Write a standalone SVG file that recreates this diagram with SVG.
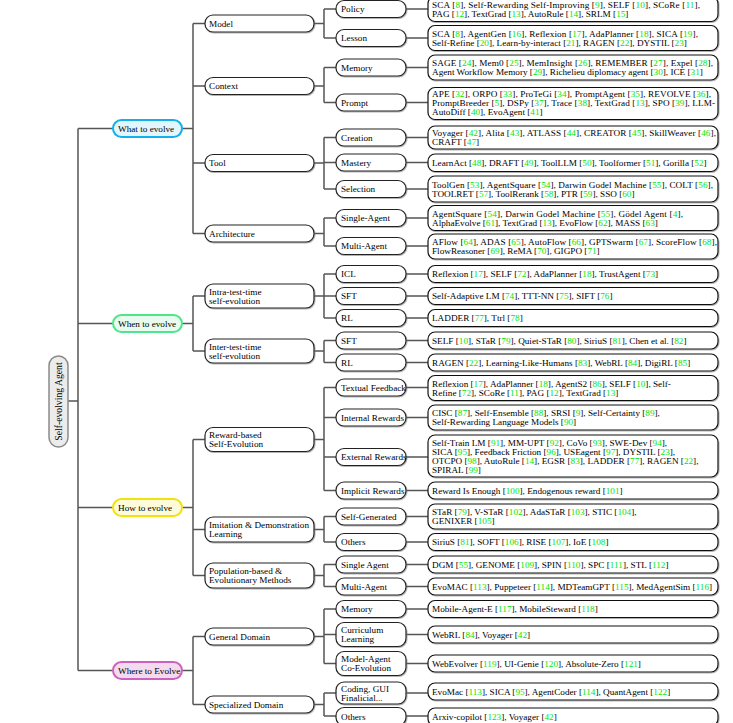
<svg xmlns="http://www.w3.org/2000/svg" width="733" height="723" viewBox="0 0 733 723">
<style>
text{font-family:"Liberation Serif","Times New Roman",serif;font-size:9.2px;fill:#000}
.g{fill:#00e600}
.b{fill:#fff;stroke:#222;stroke-width:1.2;filter:url(#sh)}
.lf{fill:#fff;stroke:#111;stroke-width:1.2;filter:url(#sh)}
.c path{stroke:#555;stroke-width:1.5;fill:none}
</style>
<defs>
<filter id="sh" x="-5%" y="-20%" width="110%" height="140%"><feDropShadow dx="0.7" dy="0.8" stdDeviation="0.5" flood-color="#777" flood-opacity="0.7"/></filter>
</defs>
<rect width="733" height="723" fill="#fff"/>
<g class="c" id="connectors">
<path d="M68 401H78M78 128.5V670.5M78 128.5H113M78 323.5H113M78 507.5H113M78 670.5H113"/>
<path d="M182 128.5H193M193 23.5V233.5M193 23.5H205M193 86H205M193 163H205M193 233.5H205"/>
<path d="M182 323.5H193M193 296V351M193 296H205M193 351H205"/>
<path d="M182 507.5H193M193 439.5V575.5M193 439.5H205M193 529.5H205M193 575.5H205"/>
<path d="M182 670.5H193M193 636.5V704.5M193 636.5H205M193 704.5H205"/>
<path d="M314 23.5H324M324 9V38M324 9H336M324 38H336"/>
<path d="M314 86H324M324 67.5V102.5M324 67.5H336M324 102.5H336"/>
<path d="M314 163H324M324 137.5V189M324 137.5H336M324 162.5H336M324 189H336"/>
<path d="M314 233.5H324M324 218V246M324 218H336M324 246H336"/>
<path d="M314 296H324M324 274V318M324 274H336M324 296H336M324 318H336"/>
<path d="M314 351H324M324 340.5V362.5M324 340.5H336M324 362.5H336"/>
<path d="M314 439.5H324M324 387.5V490.5M324 387.5H336M324 417.5H336M324 457H336M324 490.5H336"/>
<path d="M314 529.5H324M324 516.5V542M324 516.5H336M324 542H336"/>
<path d="M314 575.5H324M324 564.5V586.5M324 564.5H336M324 586.5H336"/>
<path d="M314 636.5H324M324 609V663.5M324 609H336M324 634.5H336M324 663.5H336"/>
<path d="M314 704.5H324M324 693V716M324 693H336M324 716H336"/>
<path d="M406 9H428M406 38H428M406 67.5H428M406 102.5H428M406 137.5H428M406 162.5H428M406 189H428M406 218H428M406 246H428M406 274H428M406 296H428M406 318H428M406 340.5H428M406 362.5H428M406 387.5H428M406 417.5H428M406 457H428M406 490.5H428M406 516.5H428M406 542H428M406 564.5H428M406 586.5H428M406 609H428M406 634.5H428M406 663.5H428M406 693H428M406 716H428"/>
</g>

<g id="root"><rect x="49" y="356" width="19" height="91" rx="9.5" fill="#ececec" stroke="#8a8a8a" stroke-width="1.5"/><text transform="translate(62,401.5) rotate(-90)" text-anchor="middle" style="font-size:9.7px">Self-evolving Agent</text></g>

<g id="what"><rect x="113" y="120" width="69" height="17" rx="8.5" fill="#e3f6fd" stroke="#12b0ec" stroke-width="2"/><text x="118" y="131.7">What to evolve</text></g>
<g id="when"><rect x="113" y="315" width="69" height="17" rx="8.5" fill="#e8fbef" stroke="#4fe58c" stroke-width="2"/><text x="118" y="326.7">When to evolve</text></g>
<g id="how"><rect x="113" y="499" width="69" height="17" rx="8.5" fill="#fdfbd9" stroke="#f2e20c" stroke-width="2"/><text x="118" y="510.7">How to evolve</text></g>
<g id="where"><rect x="113" y="662" width="69" height="17" rx="8.5" fill="#f4daef" stroke="#cc62bd" stroke-width="2"/><text x="118" y="673.7">Where to Evolve</text></g>

<g id="model"><rect class="b" x="205" y="15" width="109" height="17" rx="8"/><text x="209" y="26.7">Model</text></g>
<g id="context"><rect class="b" x="205" y="77.5" width="109" height="17" rx="8"/><text x="209" y="89.2">Context</text></g>
<g id="tool"><rect class="b" x="205" y="154.5" width="109" height="17" rx="8"/><text x="209" y="166.2">Tool</text></g>
<g id="architecture"><rect class="b" x="205" y="225" width="109" height="17" rx="8"/><text x="209" y="236.7">Architecture</text></g>
<g id="intra"><rect class="b" x="205" y="284" width="109" height="24" rx="8"/><text x="209" y="294.7">Intra-test-time</text><text x="209" y="303.7">self-evolution</text></g>
<g id="inter"><rect class="b" x="205" y="339" width="109" height="24" rx="8"/><text x="209" y="349.7">Inter-test-time</text><text x="209" y="358.7">self-evolution</text></g>
<g id="reward"><rect class="b" x="205" y="427.5" width="109" height="24" rx="8"/><text x="209" y="438.2">Reward-based</text><text x="209" y="447.2">Self-Evolution</text></g>
<g id="imitation"><rect class="b" x="205" y="517" width="109" height="25" rx="8"/><text x="209" y="528.2">Imitation &amp; Demonstration</text><text x="209" y="537.2">Learning</text></g>
<g id="population"><rect class="b" x="205" y="563" width="109" height="25" rx="8"/><text x="209" y="574.2">Population-based &amp;</text><text x="209" y="583.2">Evolutionary Methods</text></g>
<g id="general"><rect class="b" x="205" y="628" width="109" height="17" rx="8"/><text x="209" y="639.7">General Domain</text></g>
<g id="specialized"><rect class="b" x="205" y="696" width="109" height="17" rx="8"/><text x="209" y="707.7">Specialized Domain</text></g>

<g id="policy"><rect class="b" x="336" y="0.5" width="70" height="17" rx="8"/><text x="341" y="12.2">Policy</text></g>
<g id="lesson"><rect class="b" x="336" y="29.5" width="70" height="17" rx="8"/><text x="341" y="41.2">Lesson</text></g>
<g id="memory"><rect class="b" x="336" y="59" width="70" height="17" rx="8"/><text x="341" y="70.7">Memory</text></g>
<g id="prompt"><rect class="b" x="336" y="94" width="70" height="17" rx="8"/><text x="341" y="105.7">Prompt</text></g>
<g id="creation"><rect class="b" x="336" y="129" width="70" height="17" rx="8"/><text x="341" y="140.7">Creation</text></g>
<g id="mastery"><rect class="b" x="336" y="154" width="70" height="17" rx="8"/><text x="341" y="165.7">Mastery</text></g>
<g id="selection"><rect class="b" x="336" y="180.5" width="70" height="17" rx="8"/><text x="341" y="192.2">Selection</text></g>
<g id="single-agent"><rect class="b" x="336" y="209.5" width="70" height="17" rx="8"/><text x="341" y="221.2">Single-Agent</text></g>
<g id="multi-agent"><rect class="b" x="336" y="237.5" width="70" height="17" rx="8"/><text x="341" y="249.2">Multi-Agent</text></g>
<g id="icl"><rect class="b" x="336" y="265.5" width="70" height="17" rx="8"/><text x="341" y="277.2">ICL</text></g>
<g id="sft1"><rect class="b" x="336" y="287.5" width="70" height="17" rx="8"/><text x="341" y="299.2">SFT</text></g>
<g id="rl1"><rect class="b" x="336" y="309.5" width="70" height="17" rx="8"/><text x="341" y="321.2">RL</text></g>
<g id="sft2"><rect class="b" x="336" y="332" width="70" height="17" rx="8"/><text x="341" y="343.7">SFT</text></g>
<g id="rl2"><rect class="b" x="336" y="354" width="70" height="17" rx="8"/><text x="341" y="365.7">RL</text></g>
<g id="textual"><rect class="b" x="336" y="379" width="70" height="17" rx="8"/><text x="341" y="390.7">Textual Feedback</text></g>
<g id="internal"><rect class="b" x="336" y="409" width="70" height="17" rx="8"/><text x="341" y="420.7">Internal Rewards</text></g>
<g id="external"><rect class="b" x="336" y="448.5" width="70" height="17" rx="8"/><text x="341" y="460.2">External Rewards</text></g>
<g id="implicit"><rect class="b" x="336" y="482" width="70" height="17" rx="8"/><text x="341" y="493.7">Implicit Rewards</text></g>
<g id="self-generated"><rect class="b" x="336" y="508" width="70" height="17" rx="8"/><text x="341" y="519.7">Self-Generated</text></g>
<g id="others1"><rect class="b" x="336" y="533.5" width="70" height="17" rx="8"/><text x="341" y="545.2">Others</text></g>
<g id="single-agent2"><rect class="b" x="336" y="556" width="70" height="17" rx="8"/><text x="341" y="567.7">Single Agent</text></g>
<g id="multi-agent2"><rect class="b" x="336" y="578" width="70" height="17" rx="8"/><text x="341" y="589.7">Multi-Agent</text></g>
<g id="memory2"><rect class="b" x="336" y="600.5" width="70" height="17" rx="8"/><text x="341" y="612.2">Memory</text></g>
<g id="curriculum"><rect class="b" x="336" y="622.5" width="70" height="24" rx="8"/><text x="341" y="633.2">Curriculum</text><text x="341" y="642.2">Learning</text></g>
<g id="model-agent"><rect class="b" x="336" y="651.5" width="70" height="24" rx="8"/><text x="341" y="662.2">Model-Agent</text><text x="341" y="671.2">Co-Evolution</text></g>
<g id="coding"><rect class="b" x="336" y="682" width="70" height="22" rx="8"/><text x="341" y="691.7">Coding, GUI</text><text x="341" y="700.7">Finalicial...</text></g>
<g id="others2"><rect class="b" x="336" y="707.5" width="70" height="18" rx="8"/><text x="341" y="719.7">Others</text></g>

<g id="leaf-policy"><rect class="lf" x="428" y="-3.5" width="290" height="25" rx="7"/>
<text x="432" y="7.7" textLength="268" lengthAdjust="spacing">SCA [<tspan class="g">8</tspan>], Self-Rewarding Self-Improving [<tspan class="g">9</tspan>], SELF [<tspan class="g">10</tspan>], SCoRe [<tspan class="g">11</tspan>],</text>
<text x="432" y="16.7">PAG [<tspan class="g">12</tspan>], TextGrad [<tspan class="g">13</tspan>], AutoRule [<tspan class="g">14</tspan>], SRLM [<tspan class="g">15</tspan>]</text></g>
<g id="leaf-lesson"><rect class="lf" x="428" y="25.5" width="290" height="25" rx="7"/>
<text x="432" y="36.7" textLength="266" lengthAdjust="spacing">SCA [<tspan class="g">8</tspan>], AgentGen [<tspan class="g">16</tspan>], Reflexion [<tspan class="g">17</tspan>], AdaPlanner [<tspan class="g">18</tspan>], SICA [<tspan class="g">19</tspan>],</text>
<text x="432" y="45.7">Self-Refine [<tspan class="g">20</tspan>], Learn-by-interact [<tspan class="g">21</tspan>], RAGEN [<tspan class="g">22</tspan>], DYSTIL [<tspan class="g">23</tspan>]</text></g>
<g id="leaf-memory"><rect class="lf" x="428" y="55" width="290" height="25" rx="7"/>
<text x="432" y="66.2" textLength="281" lengthAdjust="spacing">SAGE [<tspan class="g">24</tspan>], Mem0 [<tspan class="g">25</tspan>], MemInsight [<tspan class="g">26</tspan>], REMEMBER [<tspan class="g">27</tspan>], Expel [<tspan class="g">28</tspan>],</text>
<text x="432" y="75.2">Agent Workflow Memory [<tspan class="g">29</tspan>], Richelieu diplomacy agent [<tspan class="g">30</tspan>], ICE [<tspan class="g">31</tspan>]</text></g>
<g id="leaf-prompt"><rect class="lf" x="428" y="87.5" width="290" height="32" rx="7"/>
<text x="432" y="97.2" textLength="279" lengthAdjust="spacing">APE [<tspan class="g">32</tspan>], ORPO [<tspan class="g">33</tspan>], ProTeGi [<tspan class="g">34</tspan>], PromptAgent [<tspan class="g">35</tspan>], REVOLVE [<tspan class="g">36</tspan>],</text>
<text x="432" y="106.2" textLength="283" lengthAdjust="spacing">PromptBreeder [<tspan class="g">5</tspan>], DSPy [<tspan class="g">37</tspan>], Trace [<tspan class="g">38</tspan>], TextGrad [<tspan class="g">13</tspan>], SPO [<tspan class="g">39</tspan>], LLM-</text>
<text x="432" y="115.2">AutoDiff [<tspan class="g">40</tspan>], EvoAgent [<tspan class="g">41</tspan>]</text></g>
<g id="leaf-creation"><rect class="lf" x="428" y="126" width="290" height="23" rx="7"/>
<text x="432" y="136.2" textLength="284" lengthAdjust="spacing">Voyager [<tspan class="g">42</tspan>], Alita [<tspan class="g">43</tspan>], ATLASS [<tspan class="g">44</tspan>], CREATOR [<tspan class="g">45</tspan>], SkillWeaver [<tspan class="g">46</tspan>],</text>
<text x="432" y="145.2">CRAFT [<tspan class="g">47</tspan>]</text></g>
<g id="leaf-mastery"><rect class="lf" x="428" y="154" width="290" height="17.5" rx="7"/>
<text x="432" y="165.9">LearnAct [<tspan class="g">48</tspan>], DRAFT [<tspan class="g">49</tspan>], ToolLLM [<tspan class="g">50</tspan>], Toolformer [<tspan class="g">51</tspan>], Gorilla [<tspan class="g">52</tspan>]</text></g>
<g id="leaf-selection"><rect class="lf" x="428" y="176" width="290" height="26" rx="7"/>
<text x="432" y="187.7" textLength="281" lengthAdjust="spacing">ToolGen [<tspan class="g">53</tspan>], AgentSquare [<tspan class="g">54</tspan>], Darwin Godel Machine [<tspan class="g">55</tspan>], COLT [<tspan class="g">56</tspan>],</text>
<text x="432" y="196.7">TOOLRET [<tspan class="g">57</tspan>], ToolRerank [<tspan class="g">58</tspan>], PTR [<tspan class="g">59</tspan>], SSO [<tspan class="g">60</tspan>]</text></g>
<g id="leaf-single-agent"><rect class="lf" x="428" y="205.5" width="290" height="25" rx="7"/>
<text x="432" y="216.7" textLength="251" lengthAdjust="spacing">AgentSquare [<tspan class="g">54</tspan>], Darwin Godel Machine [<tspan class="g">55</tspan>], Gödel Agent  [<tspan class="g">4</tspan>],</text>
<text x="432" y="225.7">AlphaEvolve [<tspan class="g">61</tspan>], TextGrad [<tspan class="g">13</tspan>], EvoFlow [<tspan class="g">62</tspan>], MASS [<tspan class="g">63</tspan>]</text></g>
<g id="leaf-multi-agent"><rect class="lf" x="428" y="234" width="290" height="25" rx="7"/>
<text x="432" y="245.2" textLength="285" lengthAdjust="spacing">AFlow [<tspan class="g">64</tspan>], ADAS [<tspan class="g">65</tspan>], AutoFlow [<tspan class="g">66</tspan>], GPTSwarm [<tspan class="g">67</tspan>], ScoreFlow [<tspan class="g">68</tspan>],</text>
<text x="432" y="254.2">FlowReasoner [<tspan class="g">69</tspan>], ReMA [<tspan class="g">70</tspan>], GIGPO [<tspan class="g">71</tspan>]</text></g>
<g id="leaf-icl"><rect class="lf" x="428" y="265.5" width="290" height="17" rx="7"/>
<text x="432" y="277.2">Reflexion [<tspan class="g">17</tspan>], SELF [<tspan class="g">72</tspan>], AdaPlanner [<tspan class="g">18</tspan>], TrustAgent [<tspan class="g">73</tspan>]</text></g>
<g id="leaf-sft1"><rect class="lf" x="428" y="287.5" width="290" height="17" rx="7"/>
<text x="432" y="299.2">Self-Adaptive LM [<tspan class="g">74</tspan>], TTT-NN [<tspan class="g">75</tspan>], SIFT [<tspan class="g">76</tspan>]</text></g>
<g id="leaf-rl1"><rect class="lf" x="428" y="309.5" width="290" height="17" rx="7"/>
<text x="432" y="321.2">LADDER [<tspan class="g">77</tspan>], Ttrl [<tspan class="g">78</tspan>]</text></g>
<g id="leaf-sft2"><rect class="lf" x="428" y="332" width="290" height="17" rx="7"/>
<text x="432" y="343.7">SELF [<tspan class="g">10</tspan>], STaR [<tspan class="g">79</tspan>], Quiet-STaR [<tspan class="g">80</tspan>], SiriuS [<tspan class="g">81</tspan>], Chen et al. [<tspan class="g">82</tspan>]</text></g>
<g id="leaf-rl2"><rect class="lf" x="428" y="354" width="290" height="17" rx="7"/>
<text x="432" y="365.7">RAGEN [<tspan class="g">22</tspan>], Learning-Like-Humans [<tspan class="g">83</tspan>], WebRL [<tspan class="g">84</tspan>], DigiRL [<tspan class="g">85</tspan>]</text></g>
<g id="leaf-textual"><rect class="lf" x="428" y="375.5" width="290" height="25" rx="7"/>
<text x="432" y="386.7">Reflexion [<tspan class="g">17</tspan>], AdaPlanner [<tspan class="g">18</tspan>], AgentS2 [<tspan class="g">86</tspan>], SELF [<tspan class="g">10</tspan>], Self-</text>
<text x="432" y="395.7">Refine [<tspan class="g">72</tspan>], SCoRe [<tspan class="g">11</tspan>], PAG [<tspan class="g">12</tspan>], TextGrad [<tspan class="g">13</tspan>]</text></g>
<g id="leaf-internal"><rect class="lf" x="428" y="405" width="290" height="25" rx="7"/>
<text x="432" y="416.2">CISC [<tspan class="g">87</tspan>], Self-Ensemble [<tspan class="g">88</tspan>], SRSI [<tspan class="g">9</tspan>], Self-Certainty [<tspan class="g">89</tspan>],</text>
<text x="432" y="425.2">Self-Rewarding Language Models [<tspan class="g">90</tspan>]</text></g>
<g id="leaf-external"><rect class="lf" x="428" y="435" width="290" height="42" rx="7"/>
<text x="432" y="445.7">Self-Train LM [<tspan class="g">91</tspan>], MM-UPT [<tspan class="g">92</tspan>], CoVo [<tspan class="g">93</tspan>], SWE-Dev [<tspan class="g">94</tspan>],</text>
<text x="432" y="454.7">SICA [<tspan class="g">95</tspan>], Feedback Friction [<tspan class="g">96</tspan>], USEagent [<tspan class="g">97</tspan>], DYSTIL [<tspan class="g">23</tspan>],</text>
<text x="432" y="463.7">OTCPO [<tspan class="g">98</tspan>], AutoRule [<tspan class="g">14</tspan>], EGSR [<tspan class="g">83</tspan>], LADDER [<tspan class="g">77</tspan>], RAGEN [<tspan class="g">22</tspan>],</text>
<text x="432" y="472.7">SPIRAL [<tspan class="g">99</tspan>]</text></g>
<g id="leaf-implicit"><rect class="lf" x="428" y="482" width="290" height="17" rx="7"/>
<text x="432" y="493.7">Reward Is Enough [<tspan class="g">100</tspan>], Endogenous reward [<tspan class="g">101</tspan>]</text></g>
<g id="leaf-self-generated"><rect class="lf" x="428" y="504" width="290" height="25" rx="7"/>
<text x="432" y="515.2">STaR [<tspan class="g">79</tspan>], V-STaR [<tspan class="g">102</tspan>], AdaSTaR [<tspan class="g">103</tspan>], STIC [<tspan class="g">104</tspan>],</text>
<text x="432" y="524.2">GENIXER [<tspan class="g">105</tspan>]</text></g>
<g id="leaf-others1"><rect class="lf" x="428" y="533.5" width="290" height="17" rx="7"/>
<text x="432" y="545.2">SiriuS [<tspan class="g">81</tspan>], SOFT [<tspan class="g">106</tspan>], RISE [<tspan class="g">107</tspan>], IoE [<tspan class="g">108</tspan>]</text></g>
<g id="leaf-single-agent2"><rect class="lf" x="428" y="556" width="290" height="17" rx="7"/>
<text x="432" y="567.7">DGM [<tspan class="g">55</tspan>], GENOME [<tspan class="g">109</tspan>], SPIN [<tspan class="g">110</tspan>], SPC [<tspan class="g">111</tspan>], STL [<tspan class="g">112</tspan>]</text></g>
<g id="leaf-multi-agent2"><rect class="lf" x="428" y="578" width="290" height="17" rx="7"/>
<text x="432" y="589.7">EvoMAC [<tspan class="g">113</tspan>], Puppeteer [<tspan class="g">114</tspan>], MDTeamGPT [<tspan class="g">115</tspan>], MedAgentSim [<tspan class="g">116</tspan>]</text></g>
<g id="leaf-memory2"><rect class="lf" x="428" y="600.5" width="290" height="17" rx="7"/>
<text x="432" y="612.2">Mobile-Agent-E [<tspan class="g">117</tspan>], MobileSteward [<tspan class="g">118</tspan>]</text></g>
<g id="leaf-curriculum"><rect class="lf" x="428" y="626" width="290" height="17" rx="7"/>
<text x="432" y="637.7">WebRL [<tspan class="g">84</tspan>], Voyager [<tspan class="g">42</tspan>]</text></g>
<g id="leaf-model-agent"><rect class="lf" x="428" y="655" width="290" height="17" rx="7"/>
<text x="432" y="666.7">WebEvolver [<tspan class="g">119</tspan>], UI-Genie [<tspan class="g">120</tspan>], Absolute-Zero [<tspan class="g">121</tspan>]</text></g>
<g id="leaf-coding"><rect class="lf" x="428" y="683" width="290" height="17" rx="7"/>
<text x="432" y="694.7">EvoMac [<tspan class="g">113</tspan>], SICA [<tspan class="g">95</tspan>], AgentCoder [<tspan class="g">114</tspan>], QuantAgent [<tspan class="g">122</tspan>]</text></g>
<g id="leaf-others2"><rect class="lf" x="428" y="708" width="290" height="18" rx="7"/>
<text x="432" y="719.7">Arxiv-copilot [<tspan class="g">123</tspan>], Voyager [<tspan class="g">42</tspan>]</text></g>
</svg>
